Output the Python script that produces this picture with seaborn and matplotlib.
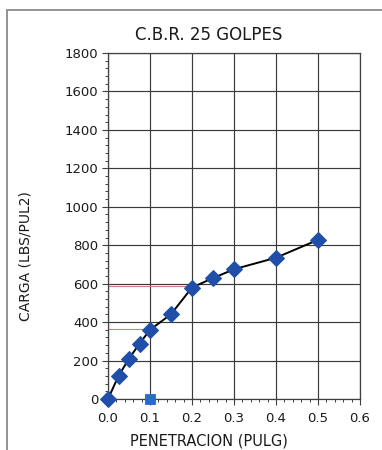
import matplotlib
matplotlib.use("Agg")
import matplotlib.pyplot as plt
from matplotlib.patches import Rectangle
from matplotlib.ticker import MultipleLocator
import seaborn as sns
import pandas as pd

# CBR test, 25 blows: penetration (in) vs. load (psi)
penetracion = [0.0, 0.025, 0.05, 0.075, 0.1, 0.15, 0.2, 0.25, 0.3, 0.4, 0.5]
carga = [0, 120, 210, 288, 360, 441, 580, 629, 675, 735, 828]

# corrected reference point and correction guide levels
punto_ref_x = [0.1]
punto_ref_y = [0]
guia_x_fin = [0.1, 0.2]
guia_y = [365, 588]

x_ticks = [0.0, 0.1, 0.2, 0.3, 0.4, 0.5, 0.6]
y_ticks = list(range(0, 1801, 200))

sns.set_theme(style="white")
plt.rcParams["font.family"] = ["DejaVu Sans"]

df = pd.DataFrame({"pen": penetracion, "carga": carga})
df_ref = pd.DataFrame({"pen": punto_ref_x, "carga": punto_ref_y})

fig = plt.figure(figsize=(3.82, 4.5), dpi=100)
fig.patch.set_facecolor("white")
ax = fig.add_axes([108 / 382, 1 - 399 / 450, (360 - 108) / 382, (399 - 53) / 450])
ax.set_facecolor("white")

# outer chart frame
fig.patches.append(Rectangle((7 / 382, -0.1), 1.2, 1 - 10 / 450 + 0.1,
                             transform=fig.transFigure, fill=False,
                             edgecolor="#8a8a8a", linewidth=1.3, zorder=0))

ax.set_xlim(0, 0.6)
ax.set_ylim(0, 1800)
ax.set_xticks(x_ticks)
ax.set_yticks(y_ticks)
ax.set_xticklabels([f"{v:.1f}" for v in x_ticks])
ax.set_yticklabels([str(v) for v in y_ticks])
ax.xaxis.set_minor_locator(MultipleLocator(0.02))
ax.yaxis.set_minor_locator(MultipleLocator(40))
ax.grid(True, which="major", color="#3a3a3a", linewidth=0.85)
ax.set_axisbelow(True)
for s in ax.spines.values():
    s.set_color("#404040")
    s.set_linewidth(0.9)
ax.tick_params(which="major", direction="out", length=4, width=0.8,
               color="#404040", labelsize=9.5, labelcolor="#1a1a1a",
               left=True, bottom=True)
ax.tick_params(axis="x", which="major", pad=5)
ax.tick_params(axis="y", which="major", pad=3)
ax.tick_params(which="minor", direction="out", length=2.5, width=0.7,
               color="#404040", left=True, bottom=True)

# correction guide lines
for xe, yv in zip(guia_x_fin, guia_y):
    ax.plot([0, xe], [yv, yv], color="#e07a7a", linewidth=0.8, zorder=2)

sns.lineplot(data=df, x="pen", y="carga", ax=ax, sort=False, color="black",
             linewidth=1.4, marker="D", markersize=8,
             markerfacecolor="#1f4fa8", markeredgecolor="#1f4fa8", zorder=4)
sns.scatterplot(data=df_ref, x="pen", y="carga", ax=ax, marker="s", s=60,
                color="#2a6cc4", edgecolor="#2a6cc4", zorder=5, clip_on=False)
for ln in ax.lines:
    ln.set_clip_on(False)

ax.set_xlabel("")
ax.set_ylabel("")

fig.text(209 / 382, 1 - 35 / 450, "C.B.R. 25 GOLPES", ha="center", va="center",
         fontsize=12, color="#1a1a1a")
fig.text(209 / 382, 1 - 441 / 450, "PENETRACION (PULG)", ha="center",
         va="center", fontsize=10.5, color="#1a1a1a")
fig.text(26 / 382, 1 - 256 / 450, "CARGA (LBS/PUL2)", ha="center", va="center",
         rotation=90, fontsize=10, color="#1a1a1a")

fig.savefig("out.png", dpi=100, facecolor="white")
